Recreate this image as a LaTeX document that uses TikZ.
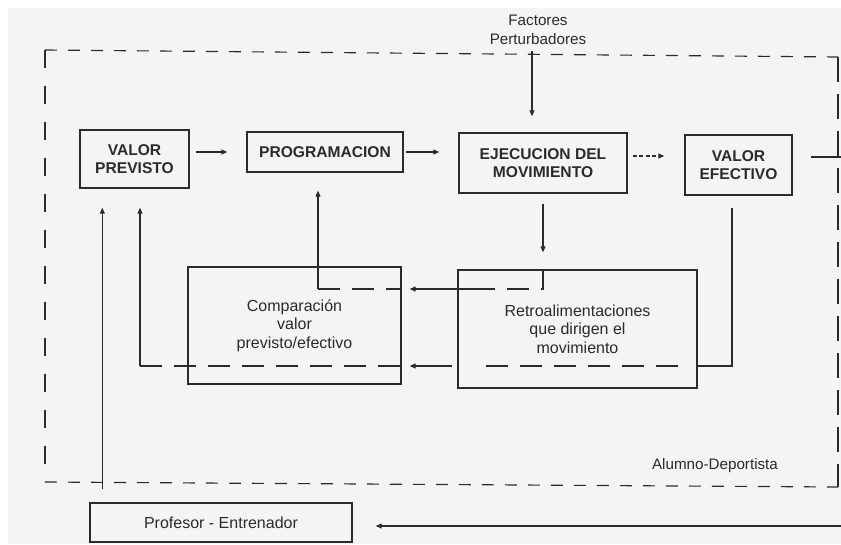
\documentclass[tikz,border=0pt]{standalone}
\usepackage{fontspec}
\setmainfont{Liberation Sans}
\usetikzlibrary{arrows.meta,calc}
\definecolor{ink}{HTML}{2B2B2B}
\definecolor{paper}{HTML}{F4F4F4}
\begin{document}
\begin{tikzpicture}[x=1pt,y=-1pt,
  box/.style={draw=ink, line width=1.4pt, inner sep=0pt, align=center, text=ink},
  caps/.style={font=\fontsize{15.6}{18}\selectfont\bfseries},
  lower/.style={font=\fontsize{16}{18.5}\selectfont},
  label/.style={inner sep=0pt, align=center, text=ink, font=\fontsize{15.2}{18.5}\selectfont},
  conn/.style={draw=ink, line width=1.15pt},
  arr/.style={conn, -{Triangle[length=6pt,width=5pt]}},
  innerdash/.style={conn, dash pattern=on 22pt off 12pt},
  shortdash/.style={dash pattern=on 4pt off 2.5pt},
  outerh/.style={conn, dash pattern=on 12pt off 11pt},
  outerl/.style={conn, dash pattern=on 18pt off 18pt},
  outerr/.style={conn, dash pattern=on 25pt off 12pt},
]
% paper
\fill[white] (0,0) rectangle (841,544);
\fill[paper] (8,8) rectangle (841,544);
\useasboundingbox (0,0) rectangle (841,544);

% outer dashed frame
\coordinate (oTL) at (45,50);
\coordinate (oTR) at (838,57);
\coordinate (oBR) at (838,487);
\coordinate (oBL) at (45,482);
\draw[outerh] (oTL) -- (oTR);
\draw[outerh] (oBL) -- (oBR);
\draw[outerl] (oTL) -- (oBL);
\draw[outerr] (oTR) -- (oBR);

% blocks
\node[box, caps, minimum width=109pt, minimum height=58pt] (vp) at (134.5,159) {VALOR\\PREVISTO};
\node[box, caps, minimum width=156pt, minimum height=40pt] (prog) at (325,152) {PROGRAMACION};
\node[box, caps, minimum width=168pt, minimum height=60pt] (ejec) at (543,163) {EJECUCION DEL\\MOVIMIENTO};
\node[box, caps, minimum width=107pt, minimum height=60pt] (ve) at (738.5,165) {VALOR\\EFECTIVO};
\node[box, lower, minimum width=213pt, minimum height=117pt] (comp) at (294.5,325.5) {Comparación\\valor\\previsto/efectivo};
\node[box, lower, minimum width=239pt, minimum height=118pt] (retro) at (577.5,329) {Retroalimentaciones\\que dirigen el\\movimiento};
\node[box, lower, minimum width=262pt, minimum height=39pt] (prof) at (221,522.5) {Profesor - Entrenador};

\node[label] (fp) at (538,30) {Factores\\Perturbadores};
\node[label] (al) at (715,466) {Alumno-Deportista};

% main chain
\draw[arr, shorten <=6pt, shorten >=19pt] (vp.east |- prog.west) -- (prog.west);
\draw[arr, shorten <=2pt, shorten >=19pt] (prog.east) -- (prog.east -| ejec.west);
\draw[arr, shortdash, shorten <=5pt, shorten >=20pt] ([yshift=7pt]ejec.east) -- ([yshift=7pt]ejec.east -| ve.west);
\coordinate (out) at (841,157);
\draw[conn, shorten <=18pt] (ve.east |- out) -- (out);

% disturbing factors
\coordinate (fpin) at (532,51);
\draw[arr, shorten >=16pt] (fpin) -- (fpin |- ejec.north);

% execution to feedback
\draw[arr, shorten <=10pt, shorten >=17pt] (ejec.south) -- (ejec.south |- retro.north);

% feedback to comparison and programming
\coordinate (yA) at (0,289);
\coordinate (a3) at (318,289);
\draw[innerdash] (ejec.south |- retro.north) |- (477,289);
\draw[arr, shorten >=8pt] (477,289) -- (comp.east |- yA);
\draw[innerdash] (a3) -- (comp.east |- yA);
\draw[arr, shorten >=18pt] (a3) -- (a3 |- prog.south);

% effective value back to the planned value
\coordinate (yB) at (0,366);
\coordinate (b0) at ([xshift=-6.5pt]ve.south);
\coordinate (b1) at (140,366);
\draw[conn, shorten <=12pt] (b0) |- (retro.east |- yB);
\draw[innerdash] (678,366) -- (477,366);
\draw[arr, shorten >=8pt] (452,366) -- (comp.east |- yB);
\draw[innerdash] (b1) -- (comp.east |- yB);
\draw[arr, shorten >=19pt] (b1) -- (b1 |- vp.south);

% coach
\coordinate (p1) at ([xshift=13pt]prof.north west);
\draw[arr, shorten <=13pt, shorten >=19pt] (p1) -- (p1 |- vp.south);
\coordinate (in) at (841,526);
\draw[arr, shorten >=23pt] (in) -- (in -| prof.east);
\end{tikzpicture}
\end{document}
